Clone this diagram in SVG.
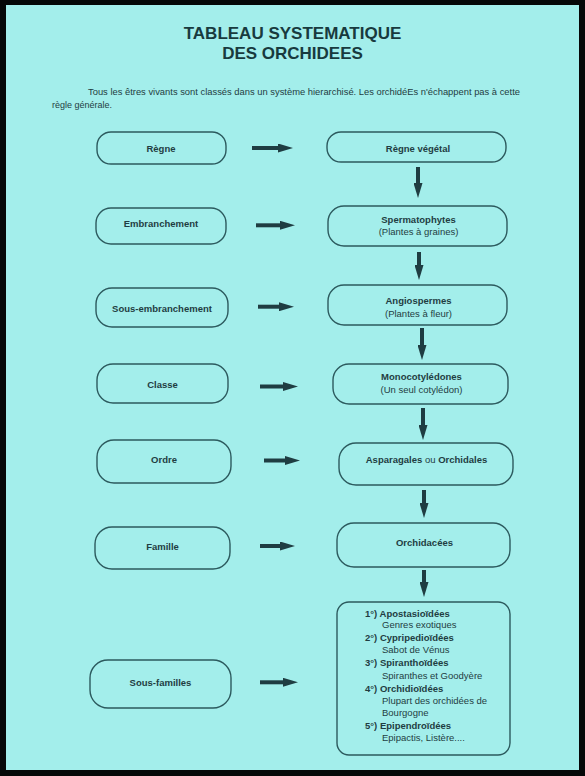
<svg xmlns="http://www.w3.org/2000/svg" width="585" height="776" viewBox="0 0 585 776">
<style>
text{font-family:"Liberation Sans",Arial,sans-serif;fill:#1f3d42}
.t{font-size:17px;font-weight:bold;text-anchor:middle;fill:#183a3e}
.p{font-size:9px}
.l{font-size:9.5px;font-weight:bold;text-anchor:middle}
.r{font-size:9.5px;text-anchor:middle}
.b{font-weight:bold}
.s{font-size:9.5px}
.box{fill:none;stroke:#2c5a5e;stroke-width:1.4}
.h{stroke:#1f3d42;stroke-width:4;marker-end:url(#ah)}
</style>
<defs>
<marker id="ah" markerUnits="userSpaceOnUse" markerWidth="15" markerHeight="9" viewBox="0 0 15 9" refX="2" refY="4.5" orient="auto">
<path d="M0,0 L15,4.5 L0,9 z" fill="#1f3d42"/>
</marker>
</defs>
<rect x="0" y="0" width="585" height="776" fill="#050808"/>
<rect x="6" y="5" width="573" height="765" fill="#a3eeeb"/>
<g id="title">
<text class="t" x="292.5" y="39">TABLEAU SYSTEMATIQUE</text>
<text class="t" x="292.5" y="59">DES ORCHIDEES</text>
</g>
<g id="intro">
<text class="p" x="88" y="95" textLength="432" lengthAdjust="spacingAndGlyphs">Tous les êtres vivants sont classés dans un système hierarchisé. Les orchidéEs n'échappent pas à cette</text>
<text class="p" x="52" y="108">règle générale.</text>
</g>
<g id="n-regne"><rect class="box" x="97" y="132" width="129" height="32" rx="14"/><text class="l" x="161" y="151.5">Règne</text></g>
<g id="n-embranchement"><rect class="box" x="96" y="208" width="130" height="36" rx="15"/><text class="l" x="161" y="226.8">Embranchement</text></g>
<g id="n-sous-embranchement"><rect class="box" x="96" y="288" width="132" height="39" rx="16"/><text class="l" x="162" y="311.8">Sous-embranchement</text></g>
<g id="n-classe"><rect class="box" x="97" y="364" width="131" height="39" rx="16"/><text class="l" x="162.5" y="387.8">Classe</text></g>
<g id="n-ordre"><rect class="box" x="97" y="440" width="134" height="43" rx="17"/><text class="l" x="164" y="462.5">Ordre</text></g>
<g id="n-famille"><rect class="box" x="95" y="527" width="135" height="42" rx="17"/><text class="l" x="162.5" y="549.5">Famille</text></g>
<g id="n-sous-familles"><rect class="box" x="90" y="660" width="141" height="48" rx="18"/><text class="l" x="160.5" y="685.8">Sous-familles</text></g>
<g id="n-regne-vegetal"><rect class="box" x="327" y="132" width="179" height="30" rx="14"/><text class="l" x="418" y="151.5">Règne végétal</text></g>
<g id="n-spermatophytes"><rect class="box" x="328" y="206" width="179" height="40" rx="16"/><text class="l" x="418.5" y="222.5">Spermatophytes</text><text class="r" x="418.5" y="234.5">(Plantes à graines)</text></g>
<g id="n-angiospermes"><rect class="box" x="328" y="285" width="179" height="40" rx="16"/><text class="l" x="418.5" y="303.5">Angiospermes</text><text class="r" x="418.5" y="316.5">(Plantes à fleur)</text></g>
<g id="n-monocotyledones"><rect class="box" x="333" y="364" width="175" height="40" rx="16"/><text class="l" x="421.5" y="380">Monocotylédones</text><text class="r" x="421.5" y="393">(Un seul cotylédon)</text></g>
<g id="n-asparagales"><rect class="box" x="339" y="443" width="174" height="42" rx="17"/><text class="r" x="426.5" y="462.5"><tspan class="b">Asparagales</tspan> ou <tspan class="b">Orchidales</tspan></text></g>
<g id="n-orchidacees"><rect class="box" x="337" y="523" width="173" height="44" rx="17"/><text class="l" x="424.5" y="546">Orchidacées</text></g>
<g id="n-sous-familles-liste">
<rect class="box" x="337" y="602" width="173" height="153" rx="12"/>
<text class="s b" x="365" y="617">1°) Apostasioïdées</text>
<text class="s" x="382" y="628">Genres exotiques</text>
<text class="s b" x="365" y="641">2°) Cypripedioïdées</text>
<text class="s" x="382" y="653">Sabot de Vénus</text>
<text class="s b" x="365" y="666">3°) Spiranthoïdées</text>
<text class="s" x="382" y="679">Spiranthes et Goodyère</text>
<text class="s b" x="365" y="692">4°) Orchidioïdées</text>
<text class="s" x="382" y="704">Plupart des orchidées de</text>
<text class="s" x="382" y="716">Bourgogne</text>
<text class="s b" x="365" y="729">5°) Epipendroïdées</text>
<text class="s" x="382" y="741">Epipactis, Listère....</text>
</g>
<g id="connectors">
<line class="h" x1="252" y1="148" x2="280" y2="148"/>
<line class="h" x1="256" y1="225.3" x2="282" y2="225.3"/>
<line class="h" x1="258" y1="306.7" x2="281" y2="306.7"/>
<line class="h" x1="260" y1="386.5" x2="285" y2="386.5"/>
<line class="h" x1="264" y1="460.5" x2="287" y2="460.5"/>
<line class="h" x1="260" y1="546" x2="282" y2="546"/>
<line class="h" x1="260" y1="682.3" x2="285" y2="682.3"/>
<line class="h" x1="418" y1="167" x2="418" y2="185"/>
<line class="h" x1="419" y1="252" x2="419" y2="267"/>
<line class="h" x1="422" y1="328" x2="422" y2="347"/>
<line class="h" x1="423" y1="408" x2="423" y2="427"/>
<line class="h" x1="424" y1="490" x2="424" y2="505"/>
<line class="h" x1="424" y1="570" x2="424" y2="584"/>
</g>
</svg>
